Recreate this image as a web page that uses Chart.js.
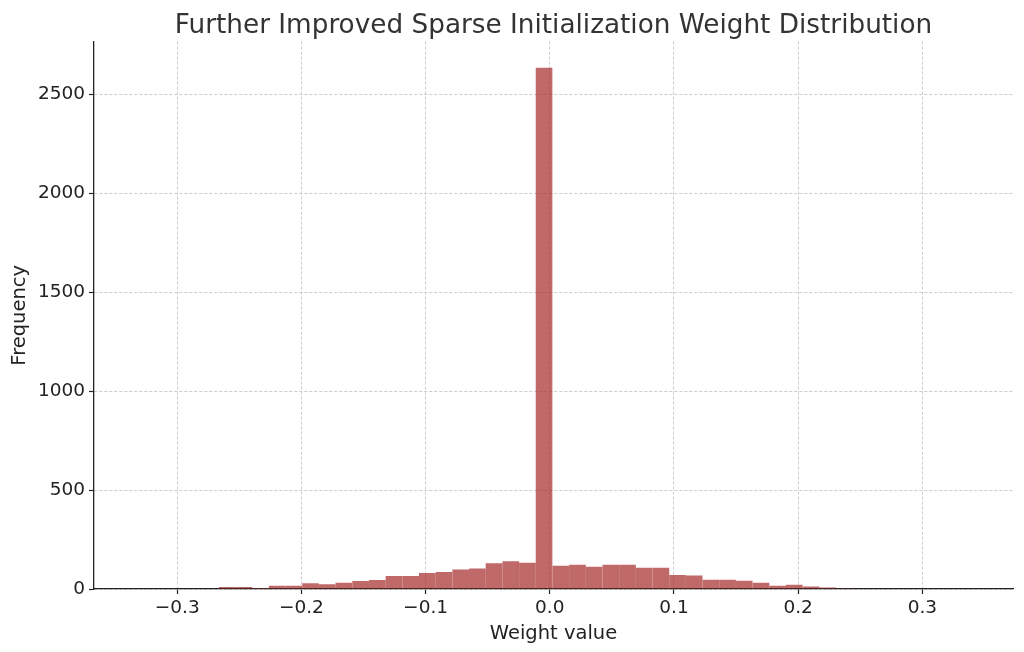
<!DOCTYPE html>
<html>
<head>
<meta charset="utf-8">
<script src="https://cdn.jsdelivr.net/npm/chart.js@4"></script>
<style>
    html, body { margin: 0; padding: 0; background: #fff; }
    #wrap { width: 1024px; height: 652px; }
</style>
</head>
<body>
<div id="wrap"><canvas id="chart"></canvas></div>
<script>
// histogram bin centres (weight value) and counts
const binCenters = [
    -0.2598, -0.2463, -0.2329, -0.2195, -0.2061, -0.1926, -0.1792, -0.1658,
    -0.1523, -0.1389, -0.1255, -0.1120, -0.0986, -0.0852, -0.0717, -0.0583,
    -0.0449, -0.0314, -0.0180, -0.0046, 0.0089, 0.0223, 0.0357, 0.0492,
    0.0626, 0.0760, 0.0895, 0.1029, 0.1163, 0.1298, 0.1432, 0.1566,
    0.1701, 0.1835, 0.1969, 0.2104, 0.2238, 0.2372
];
const counts = [
    10, 10, 5, 17, 17, 29, 24, 31,
    40, 46, 66, 66, 81, 86, 99, 103,
    130, 140, 133, 2635, 118, 123, 113, 123,
    123, 108, 108, 71, 68, 47, 47, 42,
    31, 16, 22, 13, 7, 4
];
const xTicks = [-0.3, -0.2, -0.1, 0.0, 0.1, 0.2, 0.3];
const yTicks = [0, 500, 1000, 1500, 2000, 2500];

const FONT = "'DejaVu Sans', sans-serif";
const INK = '#222222';

function fmtX(v) {
    let s = Math.abs(v).toFixed(1);
    return v < -1e-9 ? '\u2212' + s : s;
}

new Chart(document.getElementById('chart'), {
    type: 'bar',
    data: {
        datasets: [
            {
                data: binCenters.map((x, i) => ({x: x, y: counts[i]})),
                backgroundColor: 'rgba(165, 42, 42, 0.7)',
                borderWidth: 0,
                inflateAmount: 0,
                barPercentage: 1,
                categoryPercentage: 1
            }
        ]
    },
    options: {
        responsive: true,
        maintainAspectRatio: false,
        animation: false,
        devicePixelRatio: 1,
        layout: {
            padding: {top: 2, left: 8, right: 11, bottom: 6}
        },
        plugins: {
            legend: {
                display: false
            },
            tooltip: {
                enabled: false
            },
            title: {
                display: true,
                fullSize: false,
                text: 'Further Improved Sparse Initialization Weight Distribution',
                color: '#333333',
                font: {family: FONT, size: 26.3, weight: 'normal'},
                padding: {top: 8, bottom: 0}
            }
        },
        scales: {
            x: {
                type: 'linear',
                offset: false,
                min: -0.367,
                max: 0.373,
                afterBuildTicks: function (scale) {
                    scale.ticks = xTicks.map(v => ({value: v}));
                },
                afterFit: function (scale) {
                    scale.height = 57;
                },
                ticks: {
                    color: INK,
                    font: {family: FONT, size: 18.5},
                    padding: 3,
                    maxRotation: 0,
                    callback: function (v) { return fmtX(v); }
                },
                grid: {
                    offset: false,
                    color: '#cccccc',
                    lineWidth: 1,
                    tickColor: INK,
                    tickLength: 5,
                    tickWidth: 1.2
                },
                border: {
                    color: INK,
                    width: 1.3,
                    dash: [3, 2]
                },
                title: {
                    display: true,
                    text: 'Weight value',
                    color: INK,
                    font: {family: FONT, size: 19.5},
                    padding: {top: 1, bottom: 0}
                }
            },
            y: {
                min: 0,
                max: 2767,
                afterBuildTicks: function (scale) {
                    scale.ticks = yTicks.map(v => ({value: v}));
                },
                afterFit: function (scale) {
                    scale.width = 86;
                },
                ticks: {
                    color: INK,
                    font: {family: FONT, size: 18.5},
                    padding: 4,
                    callback: function (v) { return String(v); }
                },
                grid: {
                    color: '#cccccc',
                    lineWidth: 1,
                    tickColor: INK,
                    tickLength: 5,
                    tickWidth: 1.2
                },
                border: {
                    color: INK,
                    width: 1.3,
                    dash: [3, 2]
                },
                title: {
                    display: true,
                    text: 'Frequency',
                    color: INK,
                    font: {family: FONT, size: 19.5},
                    padding: {top: 0, bottom: 4}
                }
            }
        }
    }
});
</script>
</body>
</html>
